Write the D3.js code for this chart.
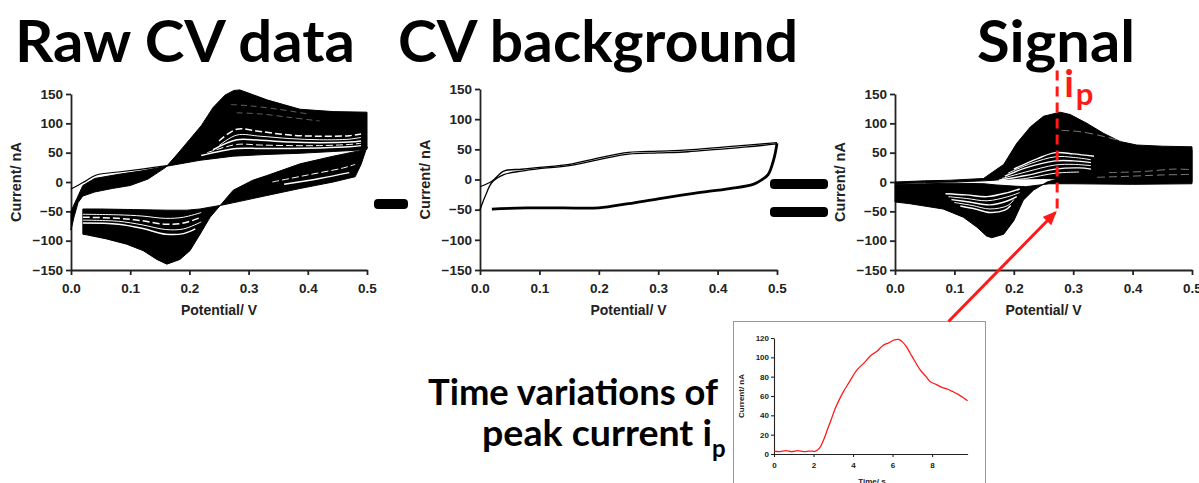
<!DOCTYPE html>
<html>
<head>
<meta charset="utf-8">
<script src="https://cdn.jsdelivr.net/npm/d3@7"></script>
<style>
  body { margin: 0; background: #fff; }
  svg { display: block; }
</style>
</head>
<body>
<svg id="fig" width="1199" height="483"></svg>
<script>
// ---- data: [potential V, current nA] ----
const titles = ['Raw CV data', 'CV background', 'Signal'];
const potentialTicks = [0, 0.1, 0.2, 0.3, 0.4, 0.5];
const currentTicks = [-150, -100, -50, 0, 50, 100, 150];

// raw CV: envelope of all the cycles (outer = last scan, inner = first scan)
const rawFwdOuter = [[0, -82], [0.005, -60], [0.012, -35], [0.02, -24], [0.04, -17], [0.07, -11], [0.1, -6], [0.13, 5], [0.16, 25], [0.18, 48], [0.2, 72], [0.22, 96], [0.24, 127], [0.26, 148], [0.275, 156], [0.285, 157], [0.307, 149], [0.331, 140], [0.359, 132], [0.387, 124], [0.443, 120], [0.5, 119]];
const rawFwdInner = [[0, -50], [0.01, -28], [0.02, -6], [0.04, 6], [0.08, 13], [0.12, 19], [0.162, 27], [0.218, 37], [0.274, 44], [0.331, 47], [0.387, 49], [0.443, 52], [0.48, 54], [0.5, 56]];
const rawFirstScan = [[0, -12], [0.02, -1], [0.043, 12], [0.08, 17], [0.12, 22], [0.162, 28]];
const rawRevOuter = [[0.5, 60], [0.49, 30], [0.48, 9], [0.443, 0], [0.387, -11], [0.331, -23], [0.285, -33], [0.252, -40], [0.235, -60], [0.218, -89], [0.201, -117], [0.184, -132], [0.162, -140], [0.145, -132], [0.122, -117], [0.094, -106], [0.06, -97], [0.026, -90], [0.02, -89]];
const rawRevInner = [[0.5, 57], [0.486, 53], [0.443, 44], [0.387, 31], [0.331, 11], [0.307, 3], [0.274, -14], [0.252, -40], [0.24, -42], [0.218, -46], [0.196, -48], [0.162, -48], [0.105, -47], [0.05, -46], [0.02, -46]];
// lighter streaks where the scans are not packed tight
const rawStreaks = [
  [[0.25, 70], [0.28, 90], [0.32, 86], [0.37, 80], [0.42, 78], [0.47, 79], [0.49, 82]],
  [[0.25, 62], [0.28, 80], [0.32, 78], [0.37, 74], [0.42, 72], [0.47, 73], [0.49, 76]],
  [[0.24, 55], [0.28, 72], [0.32, 71], [0.37, 68], [0.42, 67], [0.47, 68], [0.49, 70]],
  [[0.23, 50], [0.28, 64], [0.32, 63], [0.37, 62], [0.42, 62], [0.47, 64], [0.49, 66]],
  [[0.22, 45], [0.28, 57], [0.32, 57], [0.37, 57], [0.42, 58], [0.47, 60], [0.49, 62]],
  [[0.02, -55], [0.08, -56], [0.12, -58], [0.16, -62], [0.19, -60], [0.22, -52]],
  [[0.02, -60], [0.08, -62], [0.12, -66], [0.16, -72], [0.19, -70], [0.22, -60]],
  [[0.02, -65], [0.08, -67], [0.12, -73], [0.16, -81], [0.19, -80], [0.22, -68]],
  [[0.02, -70], [0.08, -72], [0.12, -79], [0.16, -89], [0.19, -88], [0.21, -80]],
  [[0.34, 0], [0.4, 12], [0.46, 24], [0.48, 30]],
  [[0.36, -4], [0.42, 6], [0.47, 16]],
];
const rawGrayStreaks = [
  [[0.27, 132], [0.3, 130], [0.35, 124], [0.4, 116]],
  [[0.28, 118], [0.32, 116], [0.37, 110], [0.42, 104]],
];

// background CV (two scans, nearly on top of each other)
const bgFwdA = [[0, -50], [0.01, -25], [0.02, -5], [0.04, 8], [0.07, 14], [0.1, 18], [0.15, 23], [0.2, 33], [0.25, 42], [0.3, 44], [0.35, 46], [0.4, 50], [0.45, 54], [0.5, 59]];
const bgFwdB = [[0, -12], [0.02, -3], [0.04, 14], [0.07, 17], [0.1, 20], [0.15, 25], [0.2, 36], [0.25, 45], [0.3, 47], [0.35, 49], [0.4, 53], [0.45, 57], [0.5, 61]];
const bgRev = [[0.5, 60], [0.495, 35], [0.485, 8], [0.475, 0], [0.46, -8], [0.42, -15], [0.36, -23], [0.3, -32], [0.25, -40], [0.2, -47], [0.14, -47], [0.08, -47], [0.02, -49]];

// background-subtracted signal
const sigFwdOuter = [[0, 0], [0.05, 2], [0.093, 3], [0.149, 6], [0.183, 30], [0.205, 66], [0.228, 94], [0.25, 112], [0.278, 119], [0.295, 115], [0.323, 100], [0.351, 83], [0.379, 69], [0.407, 63], [0.45, 61], [0.5, 60]];
const sigFwdInner = [[0, -3], [0.05, -1], [0.1, 0], [0.15, 2], [0.2, 5], [0.25, 6], [0.3, 4], [0.35, 2], [0.4, 1], [0.5, 0]];
const sigRevOuter = [[0.5, 55], [0.45, 42], [0.4, 31], [0.35, 22], [0.3, 12], [0.27, 4], [0.256, 0], [0.233, -14], [0.216, -31], [0.2, -66], [0.183, -89], [0.163, -95], [0.154, -92], [0.138, -77], [0.115, -60], [0.081, -46], [0.025, -37], [0, -34]];
const sigRevInner = [[0.5, -3], [0.4, -4], [0.3, -3], [0.26, -3], [0.22, -8], [0.2, -7], [0.17, -5], [0.15, -3], [0.1, -2], [0.05, -3], [0, -4]];
const sigStreaks = [
  [[0.2, 22], [0.24, 40], [0.27, 50], [0.3, 48], [0.335, 44]],
  [[0.19, 15], [0.23, 32], [0.27, 43], [0.3, 42], [0.33, 38]],
  [[0.185, 10], [0.22, 24], [0.27, 36], [0.3, 36], [0.33, 33]],
  [[0.18, 6], [0.22, 17], [0.27, 29], [0.3, 30], [0.33, 28]],
  [[0.175, 3], [0.22, 11], [0.27, 22], [0.31, 24], [0.33, 22]],
  [[0.17, 1], [0.22, 6], [0.27, 15], [0.31, 17]],
  [[0.085, -20], [0.12, -22], [0.155, -25], [0.19, -18], [0.21, -12]],
  [[0.09, -25], [0.12, -28], [0.155, -32], [0.19, -25], [0.21, -18]],
  [[0.095, -30], [0.125, -34], [0.16, -39], [0.19, -32], [0.205, -25]],
  [[0.1, -35], [0.13, -40], [0.16, -46], [0.19, -40], [0.2, -30]],
  [[0.11, -41], [0.135, -46], [0.16, -52], [0.185, -48], [0.195, -40]],
];
const sigGrayStreaks = [
  [[0.34, 8], [0.4, 10], [0.45, 12], [0.5, 13]],
  [[0.36, 16], [0.42, 18], [0.47, 22], [0.5, 21]],
  [[0.28, 88], [0.31, 86], [0.35, 78], [0.38, 70]],
];
const peakPotential = 0.273;      // where i_p is read
const peakMarkerSpan = [190, -52]; // nA, extent of the dashed marker

// inset: peak current against time
const insetTime = [0, 0.3, 0.6, 0.9, 1.2, 1.5, 1.8, 2.1, 2.3, 2.5, 2.7, 2.9, 3.1, 3.3, 3.5, 3.8, 4.2, 4.6, 4.9, 5.2, 5.5, 5.8, 6.1, 6.3, 6.5, 6.7, 6.9, 7.1, 7.4, 7.7, 7.9, 8.2, 8.5, 8.8, 9.0, 9.3, 9.6, 9.8];
const insetCurrent = [3, 2.5, 3.5, 2.5, 3.5, 2.5, 3, 3, 6, 14, 25, 36, 47, 56, 64, 74, 87, 95, 102, 106, 112, 115, 118, 118.5, 116, 111, 104, 97, 87, 80, 75, 72, 69, 67, 65, 62, 58, 55];
const insetTimeTicks = [0, 2, 4, 6, 8];
const insetCurrentTicks = [0, 20, 40, 60, 80, 100, 120];

// ---- drawing ----
const svg = d3.select('#fig');
const axisFont = "'Liberation Sans', Arial, sans-serif";
const titleFont = "Lato, 'Open Sans', sans-serif";

const panels = [
  { x0: 71, x1: 367, y0: 94, y1: 270 },
  { x0: 480, x1: 777, y0: 89, y1: 270 },
  { x0: 895, x1: 1192, y0: 94, y1: 270 },
];

const styleAxis = function styleAxis(g, width, fontSize) {
  g.select('.domain').attr('stroke', '#222').attr('stroke-width', width);
  g.selectAll('.tick line').attr('stroke', '#222').attr('stroke-width', width);
  g.selectAll('.tick text')
    .attr('fill', '#222')
    .style('font-family', axisFont)
    .style('font-weight', 'bold')
    .style('font-size', `${fontSize}px`);
};

const makePanel = function makePanel(box) {
  const x = d3.scaleLinear().domain([0, 0.5]).range([box.x0, box.x1]);
  const y = d3.scaleLinear().domain([-150, 150]).range([box.y1, box.y0]);
  const g = svg.append('g');

  g.append('g')
    .attr('transform', `translate(0, ${box.y1})`)
    .call(d3.axisBottom(x).tickValues(potentialTicks).tickFormat(d3.format('.1f'))
      .tickSize(5).tickSizeOuter(0).tickPadding(8))
    .call(a => styleAxis(a, 1.8, 13.5));

  g.append('g')
    .attr('transform', `translate(${box.x0}, 0)`)
    .call(d3.axisLeft(y).tickValues(currentTicks).tickSize(5).tickSizeOuter(0).tickPadding(3))
    .call(a => styleAxis(a, 1.8, 13.5));

  g.append('text')
    .attr('x', (box.x0 + box.x1) / 2)
    .attr('y', box.y1 + 45)
    .attr('text-anchor', 'middle')
    .style('font-family', axisFont)
    .style('font-weight', 'bold')
    .style('font-size', '14px')
    .attr('fill', '#222')
    .text('Potential/ V');

  g.append('text')
    .attr('transform', `translate(${box.x0 - 50}, ${(box.y0 + box.y1) / 2}) rotate(-90)`)
    .attr('text-anchor', 'middle')
    .style('font-family', axisFont)
    .style('font-weight', 'bold')
    .style('font-size', '14.5px')
    .attr('fill', '#222')
    .text('Current/ nA');

  return { g, x, y };
};

const bandPath = function bandPath(p, a, b) {
  const line = d3.line().x(d => p.x(d[0])).y(d => p.y(d[1])).curve(d3.curveLinearClosed);
  return line(a.concat(b.slice().reverse()));
};

const curve = function curve(p) {
  return d3.line().x(d => p.x(d[0])).y(d => p.y(d[1])).curve(d3.curveCatmullRom.alpha(0.5));
};

// panel 1: raw CV data
const p1 = makePanel(panels[0]);
p1.g.append('path').attr('d', bandPath(p1, rawFwdOuter, rawFwdInner)).attr('fill', '#000')
  .attr('stroke', '#000').attr('stroke-width', 1).attr('stroke-linejoin', 'round');
p1.g.append('path').attr('d', bandPath(p1, rawRevOuter, rawRevInner)).attr('fill', '#000')
  .attr('stroke', '#000').attr('stroke-width', 1).attr('stroke-linejoin', 'round');
p1.g.selectAll('.streak').data(rawStreaks).join('path')
  .attr('d', curve(p1)).attr('fill', 'none').attr('stroke', '#fff')
  .attr('stroke-width', (d, i) => (i % 2 ? 1 : 1.5))
  .attr('stroke-dasharray', (d, i) => (i % 3 === 0 ? '7,3' : null));
p1.g.selectAll('.gray').data(rawGrayStreaks).join('path')
  .attr('d', curve(p1)).attr('fill', 'none').attr('stroke', '#777')
  .attr('stroke-width', 0.8).attr('stroke-dasharray', '6,4');
p1.g.append('path').datum(rawFirstScan).attr('d', curve(p1))
  .attr('fill', 'none').attr('stroke', '#000').attr('stroke-width', 1.2);

// panel 2: background
const p2 = makePanel(panels[1]);
[bgFwdA, bgFwdB].forEach((d) => {
  p2.g.append('path').datum(d).attr('d', curve(p2))
    .attr('fill', 'none').attr('stroke', '#000').attr('stroke-width', 1.3);
});
p2.g.append('path').datum(bgRev).attr('d', curve(p2))
  .attr('fill', 'none').attr('stroke', '#000').attr('stroke-width', 2.8);

// panel 3: signal
const p3 = makePanel(panels[2]);
p3.g.append('path').attr('d', bandPath(p3, sigFwdOuter, sigFwdInner)).attr('fill', '#000')
  .attr('stroke', '#000').attr('stroke-width', 1).attr('stroke-linejoin', 'round');
p3.g.append('path').attr('d', bandPath(p3, sigRevOuter, sigRevInner)).attr('fill', '#000')
  .attr('stroke', '#000').attr('stroke-width', 1).attr('stroke-linejoin', 'round');
p3.g.selectAll('.streak').data(sigStreaks).join('path')
  .attr('d', curve(p3)).attr('fill', 'none').attr('stroke', '#fff')
  .attr('stroke-width', (d, i) => (i % 2 ? 1 : 1.4));
p3.g.selectAll('.gray').data(sigGrayStreaks).join('path')
  .attr('d', curve(p3)).attr('fill', 'none').attr('stroke', '#888')
  .attr('stroke-width', 0.9).attr('stroke-dasharray', '8,4');

// i_p marker
const red = '#ff1a1a';
p3.g.append('line')
  .attr('x1', p3.x(peakPotential)).attr('x2', p3.x(peakPotential))
  .attr('y1', p3.y(peakMarkerSpan[0])).attr('y2', p3.y(peakMarkerSpan[1]))
  .attr('stroke', red).attr('stroke-width', 3).attr('stroke-dasharray', '10,6');
const ipLabel = p3.g.append('text')
  .attr('x', p3.x(peakPotential) + 7).attr('y', 97)
  .attr('fill', red)
  .style('font-family', titleFont)
  .style('font-weight', 'bold')
  .style('font-size', '38px');
ipLabel.append('tspan').text('i');
ipLabel.append('tspan').attr('dx', 2).attr('dy', 8).style('font-size', '31px').text('p');

// operators between the panels
svg.append('rect').attr('x', 374).attr('y', 199).attr('width', 34).attr('height', 10)
  .attr('rx', 4).attr('fill', '#000');
[179, 207].forEach((top) => {
  svg.append('rect').attr('x', 770).attr('y', top).attr('width', 58).attr('height', 10)
    .attr('rx', 4).attr('fill', '#000');
});

// titles
const titleBoxes = [[15, 340], [398, 400], [977, 158]];
titles.forEach((t, i) => {
  svg.append('text')
    .attr('x', titleBoxes[i][0]).attr('y', 62)
    .attr('textLength', titleBoxes[i][1]).attr('lengthAdjust', 'spacingAndGlyphs')
    .style('font-family', titleFont)
    .style('font-weight', 'bold')
    .style('font-size', '58px')
    .attr('fill', '#000')
    .text(t);
});

// caption for the inset
const capStyle = sel => sel.style('font-family', titleFont).style('font-weight', 'bold').attr('fill', '#000');
svg.append('text').attr('x', 428).attr('y', 405)
  .attr('textLength', 290).attr('lengthAdjust', 'spacingAndGlyphs')
  .style('font-size', '36px').call(capStyle).text('Time variations of');
svg.append('text').attr('x', 482).attr('y', 446)
  .attr('textLength', 230).attr('lengthAdjust', 'spacingAndGlyphs')
  .style('font-size', '36px').call(capStyle).text('peak current i');
svg.append('text').attr('x', 712).attr('y', 457)
  .style('font-size', '24px').call(capStyle).text('p');

// inset chart
const inset = { x: 733.5, y: 321.5, w: 252, h: 200 };
svg.append('rect').attr('x', inset.x).attr('y', inset.y).attr('width', inset.w).attr('height', inset.h)
  .attr('fill', '#fff').attr('stroke', '#999').attr('stroke-width', 1);
const ix = d3.scaleLinear().domain([0, 9.8]).range([774, 967.6]);
const iy = d3.scaleLinear().domain([0, 120]).range([454, 338]);
svg.append('g').attr('transform', 'translate(0, 454)')
  .call(d3.axisBottom(ix).tickValues(insetTimeTicks).tickSize(3).tickSizeOuter(0).tickPadding(5))
  .call(a => styleAxis(a, 1.1, 8));
svg.append('g').attr('transform', 'translate(774, 0)')
  .call(d3.axisLeft(iy).tickValues(insetCurrentTicks).tickSize(3).tickSizeOuter(0).tickPadding(2))
  .call(a => styleAxis(a, 1.1, 8));
svg.append('text')
  .attr('transform', `translate(744, ${(338 + 454) / 2}) rotate(-90)`)
  .attr('text-anchor', 'middle')
  .style('font-family', axisFont).style('font-weight', 'bold').style('font-size', '8px')
  .attr('fill', '#222').text('Current/ nA');
svg.append('text')
  .attr('x', 872).attr('y', 484).attr('text-anchor', 'middle')
  .style('font-family', axisFont).style('font-weight', 'bold').style('font-size', '8px')
  .attr('fill', '#222').text('Time/ s');
const insetLine = d3.line()
  .x((d, i) => ix(insetTime[i]))
  .y(d => iy(d))
  .curve(d3.curveCatmullRom.alpha(0.5));
svg.append('path').datum(insetCurrent).attr('d', insetLine)
  .attr('fill', 'none').attr('stroke', red).attr('stroke-width', 1.3);

// arrow from the inset up to the peak marker
svg.append('defs').append('marker')
  .attr('id', 'head').attr('markerUnits', 'userSpaceOnUse')
  .attr('markerWidth', 14).attr('markerHeight', 12)
  .attr('refX', 12).attr('refY', 6).attr('orient', 'auto')
  .append('path').attr('d', 'M0,0 L14,6 L0,12 Z').attr('fill', red);
svg.append('line')
  .attr('x1', inset.x + 215).attr('y1', inset.y)
  .attr('x2', p3.x(0.27)).attr('y2', p3.y(-52))
  .attr('stroke', red).attr('stroke-width', 3)
  .attr('marker-end', 'url(#head)');
</script>
</body>
</html>
